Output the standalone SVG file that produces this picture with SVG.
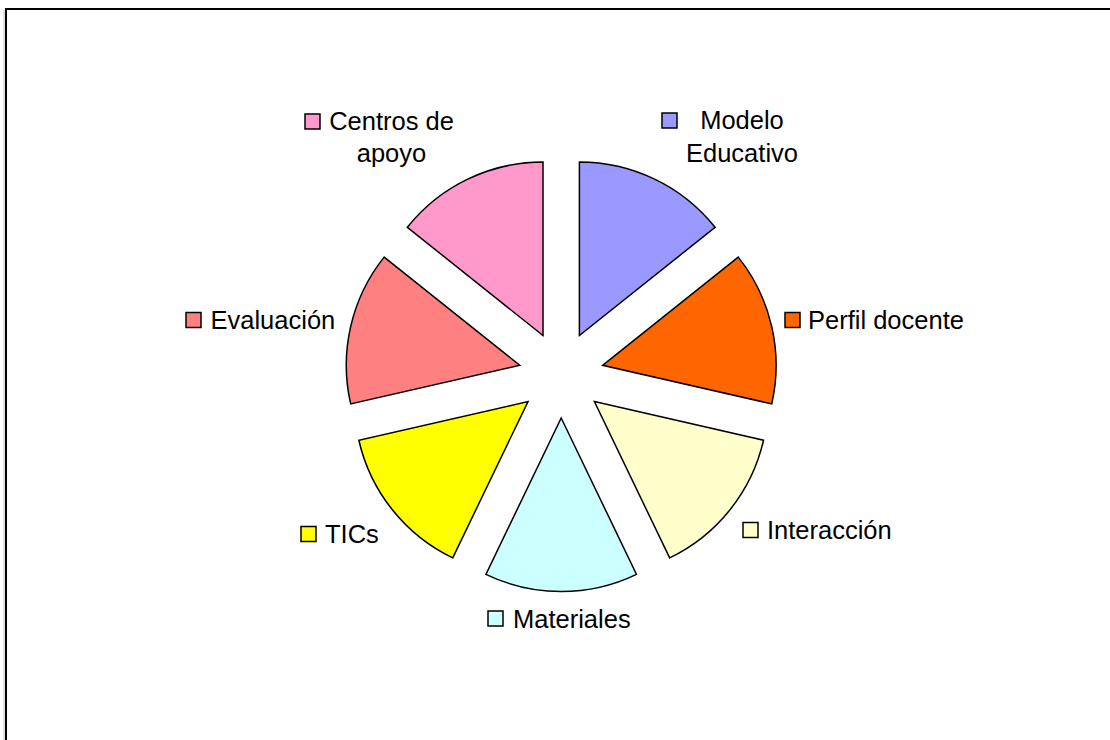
<svg xmlns="http://www.w3.org/2000/svg" width="1110" height="740" viewBox="0 0 1110 740">
<style>
.slice{stroke:#000;stroke-width:1.5;stroke-linejoin:miter}
.key{stroke:#000;stroke-width:1.5}
.lbl{font-family:"Liberation Sans",Arial,sans-serif;font-size:25.5px;fill:#000}
</style>
<rect x="0" y="0" width="1110" height="740" fill="#fff"/>
<g id="frame">
<line x1="4" y1="10" x2="4" y2="740" stroke="#c0c0c0" stroke-width="1"/>
<path d="M6,740 V9 H1110" fill="none" stroke="#000" stroke-width="2"/>
</g>
<g id="slices">
<g id="modelo-educativo">
<path class="slice" fill="#9999FF" d="M579.4,335.5 L579.4,162 A173.5,173.5 0 0 1 715.05,227.33 Z"/>
</g>
<g id="perfil-docente">
<path class="slice" fill="#FF6600" d="M602.6,365.3 L738.25,257.13 A173.5,173.5 0 0 1 771.75,403.91 Z"/>
</g>
<g id="interaccion">
<path class="slice" fill="#FFFFCC" d="M594.4,401.6 L763.55,440.21 A173.5,173.5 0 0 1 669.68,557.92 Z"/>
</g>
<g id="materiales">
<path class="slice" fill="#CCFFFF" d="M561.2,418 L636.48,574.32 A173.5,173.5 0 0 1 485.92,574.32 Z"/>
</g>
<g id="tics">
<path class="slice" fill="#FFFF00" d="M528,401.6 L452.72,557.92 A173.5,173.5 0 0 1 358.85,440.21 Z"/>
</g>
<g id="evaluacion">
<path class="slice" fill="#FF8080" d="M519.8,365.3 L350.65,403.91 A173.5,173.5 0 0 1 384.15,257.13 Z"/>
</g>
<g id="centros-de-apoyo">
<path class="slice" fill="#FF99CC" d="M543,335.5 L407.35,227.33 A173.5,173.5 0 0 1 543,162 Z"/>
</g>
</g>
<g id="legend">
<g id="legend-modelo">
<rect class="key" x="662" y="113" width="15" height="15" fill="#9999FF"/>
<text class="lbl" x="742" y="129" text-anchor="middle">Modelo</text>
<text class="lbl" x="742" y="161.5" text-anchor="middle">Educativo</text>
</g>
<g id="legend-perfil">
<rect class="key" x="785" y="312.5" width="15" height="15" fill="#FF6600"/>
<text class="lbl" x="808" y="328.5">Perfil docente</text>
</g>
<g id="legend-interaccion">
<rect class="key" x="743" y="522.5" width="15" height="15" fill="#FFFFCC"/>
<text class="lbl" x="767" y="538.5">Interacción</text>
</g>
<g id="legend-materiales">
<rect class="key" x="488" y="611" width="15" height="15" fill="#CCFFFF"/>
<text class="lbl" x="513" y="628">Materiales</text>
</g>
<g id="legend-tics">
<rect class="key" x="301" y="526.5" width="15" height="15" fill="#FFFF00"/>
<text class="lbl" x="325" y="542.5">TICs</text>
</g>
<g id="legend-evaluacion">
<rect class="key" x="186" y="312.5" width="15" height="15" fill="#FF8080"/>
<text class="lbl" x="210.5" y="328.5">Evaluación</text>
</g>
<g id="legend-centros">
<rect class="key" x="305" y="114" width="15" height="15" fill="#FF99CC"/>
<text class="lbl" x="391.5" y="130" text-anchor="middle">Centros de</text>
<text class="lbl" x="391.5" y="162" text-anchor="middle">apoyo</text>
</g>
</g>
</svg>
